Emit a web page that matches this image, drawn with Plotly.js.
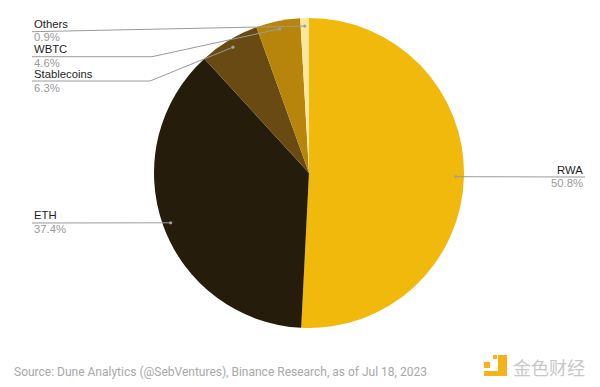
<!DOCTYPE html>
<html>
<head>
<meta charset="utf-8">
<script src="https://cdn.plot.ly/plotly-3.0.1.min.js"></script>
<style>html,body{margin:0;padding:0;background:#fff;}#chart{width:600px;height:387px;}</style>
</head>
<body>
<div id="chart"></div>
<script>
// Data
const labels = ["RWA", "ETH", "Stablecoins", "WBTC", "Others"];
const values = [50.8, 37.4, 6.3, 4.6, 0.9];
const colors = ["#F0B90C", "#261C0B", "#6A4A13", "#B7850C", "#F9E7A0"];
const sourceText = "Source: Dune Analytics (@SebVentures), Binance Research, as of Jul 18, 2023";

const W = 600, H = 387;
const cx = 309, cy = 173, R = 155;
const px = x => x / W;
const py = y => 1 - y / H;

// label layout (pixel positions of text and leader bends)
const labelPos = {
  "RWA":        {side: "right", x: 585, nameY: 170, pctY: 183, lineY: 177, bendX: 585},
  "ETH":        {side: "left",  x: 32,  nameY: 215, pctY: 229, lineY: 223, bendX: 32},
  "Stablecoins":{side: "left",  x: 32,  nameY: 74,  pctY: 87.5, lineY: 81, bendX: 150},
  "WBTC":       {side: "left",  x: 32,  nameY: 49,  pctY: 62.5, lineY: 56.7, bendX: 152},
  "Others":     {side: "left",  x: 32,  nameY: 24,  pctY: 37.5, lineY: 31.7, bendX: 32}
};

const total = values.reduce((a, b) => a + b, 0);
const shapes = [];
const annotations = [];
let cum = 0;
const rDot = 147;
labels.forEach((lab, i) => {
  const mid = (cum + values[i] / 2) / total * 2 * Math.PI;
  cum += values[i];
  const dx = cx + rDot * Math.sin(mid);
  const dy = cy - rDot * Math.cos(mid);
  const p = labelPos[lab];
  let path;
  if (p.side === "left") {
    path = `M ${px(p.x)} ${py(p.lineY)} L ${px(p.bendX)} ${py(p.lineY)} L ${px(dx)} ${py(dy)}`;
  } else {
    path = `M ${px(dx)} ${py(dy)} L ${px(p.x)} ${py(p.lineY)}`;
  }
  shapes.push({type: "path", xref: "paper", yref: "paper", path: path,
    line: {color: "#9a9a9a", width: 1}});
  shapes.push({type: "circle", xref: "paper", yref: "paper",
    x0: px(dx - 1.6), x1: px(dx + 1.6), y0: py(dy + 1.6), y1: py(dy - 1.6),
    fillcolor: "#a0a0a0", line: {width: 0}});
  const anchor = p.side === "left" ? "left" : "right";
  annotations.push({xref: "paper", yref: "paper", x: px(p.x), y: py(p.nameY),
    xanchor: anchor, yanchor: "middle", showarrow: false, text: lab,
    font: {family: "Liberation Sans, Arial, sans-serif", size: 11.3, color: "#1e1e1e"}});
  annotations.push({xref: "paper", yref: "paper", x: px(p.x), y: py(p.pctY),
    xanchor: anchor, yanchor: "middle", showarrow: false, text: values[i].toFixed(1) + "%",
    font: {family: "Liberation Sans, Arial, sans-serif", size: 11.3, color: "#9a9a9a"}});
});

// source
annotations.push({xref: "paper", yref: "paper", x: px(12), y: py(372), xanchor: "left", yanchor: "middle",
  showarrow: false, text: sourceText,
  font: {family: "Roboto, sans-serif", size: 12, color: "#a8a8a8"}});
// watermark text
annotations.push({xref: "paper", yref: "paper", x: px(511), y: py(367), xanchor: "left", yanchor: "middle",
  showarrow: false, text: "金色财经",
  font: {family: "Noto Sans CJK SC, sans-serif", size: 18, color: "#c8c8c8"}});
// watermark logo
const logoColor = "#F5B21A";
[[484, 362, 490, 368], [493, 355, 497, 359], [498, 355, 507, 376], [484, 371, 507, 376]].forEach(r => {
  shapes.push({type: "rect", xref: "paper", yref: "paper",
    x0: px(r[0]), x1: px(r[2]), y0: py(r[3]), y1: py(r[1]),
    fillcolor: logoColor, line: {width: 0}});
});

const trace = {
  type: "pie",
  labels: labels,
  values: values,
  sort: false,
  direction: "clockwise",
  rotation: 0,
  textinfo: "none",
  hoverinfo: "label+percent",
  marker: {colors: colors, line: {width: 0}},
  domain: {x: [px(cx - R), px(cx + R)], y: [py(cy + R), py(cy - R)]}
};

Plotly.newPlot("chart", [trace], {
  width: W, height: H,
  margin: {l: 0, r: 0, t: 0, b: 0},
  showlegend: false,
  paper_bgcolor: "#fff",
  shapes: shapes,
  annotations: annotations
}, {displayModeBar: false, staticPlot: true});
</script>
</body>
</html>
